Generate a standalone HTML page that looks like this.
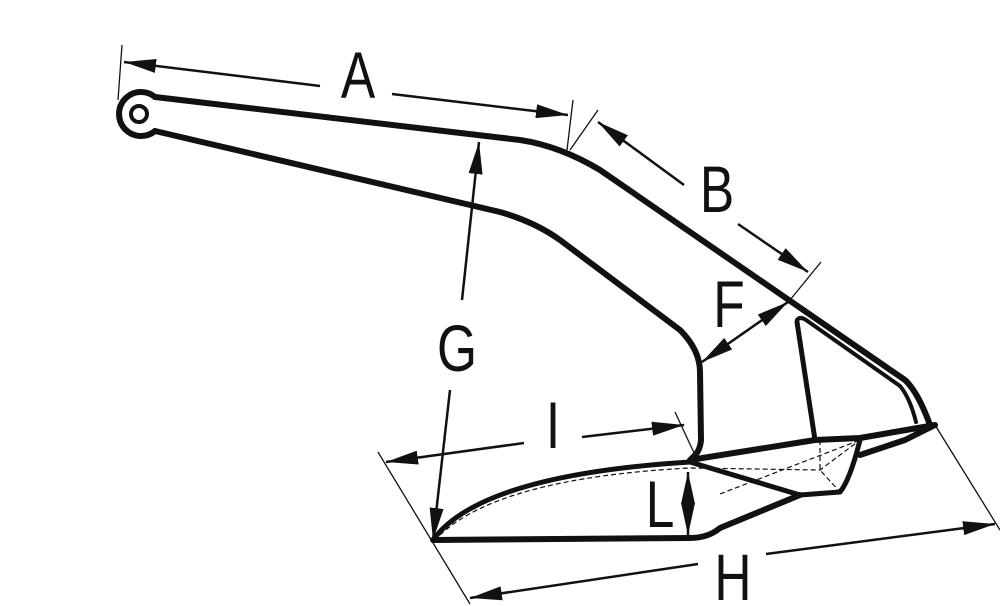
<!DOCTYPE html>
<html><head><style>
html,body{margin:0;padding:0;background:#fff;}
svg{display:block;}
text{font-family:"Liberation Sans Narrow","Liberation Sans",sans-serif;font-size:66px;fill:#111;text-anchor:middle;}
</style></head><body>
<svg width="1000" height="606" viewBox="0 0 1000 606" xmlns="http://www.w3.org/2000/svg">
<defs>
<marker id="ab" viewBox="0 0 10 10" refX="10" refY="5" markerWidth="32" markerHeight="14" markerUnits="userSpaceOnUse" orient="auto-start-reverse" preserveAspectRatio="none">
<path d="M0,0 L10,5 L0,10 z" fill="#111"/></marker>
</defs>
<g fill="none" stroke="#111" stroke-width="6" stroke-linejoin="round" stroke-linecap="round">
<!-- eye -->
<path d="M155,97 A22,22 0 1 0 155,131"/>
<circle cx="139" cy="114" r="8" stroke-width="4"/>
<!-- shank top -->
<path d="M155,97 L520,140 Q560,146 600,170 L905,380 Q918,392 930,425"/>
<path d="M797,320 Q800,316 806,320 L900,386 Q910,398 916,422" stroke-width="4"/>
<!-- shank bottom -->
<path d="M155,131 L500,212 Q535,222 560,240 L680,330 Q700,350 700,372 L701,440 Q700,452 692,458"/>
<!-- fin -->
<path d="M797,322 L815,440" stroke-width="5"/>
<!-- fluke top -->
<path d="M690,460 L815,440 L860,438 L935,425 L905,440 L860,455" stroke-width="6"/>
<!-- blade -->
<path d="M433,540 Q480,475 690,462 L800,495 L840,492 Q850,480 860,440" stroke-width="5"/>
<path d="M433,540 L690,538 Q708,538 720,528 L800,495"/>
</g>
<g fill="none" stroke="#111" stroke-width="1.2" stroke-dasharray="5,3">
<path d="M440,535 Q500,478 690,468 L820,470 L860,440"/>
<path d="M820,440 L820,470 L840,492"/>
<path d="M720,494 L860,440"/>
</g>
<g stroke="#111" stroke-width="1.3" fill="none">
<line x1="122" y1="45" x2="118" y2="100"/>
<line x1="573" y1="100" x2="567" y2="150"/>
<line x1="598" y1="110" x2="570" y2="150"/>
<line x1="821" y1="262" x2="790" y2="300"/>
<line x1="378" y1="452" x2="470" y2="604"/>
<line x1="675" y1="412" x2="695" y2="455"/>
<line x1="935" y1="425" x2="1000" y2="530"/>
</g>
<g stroke="#111" stroke-width="2.5" fill="none">
<line x1="124" y1="62" x2="320" y2="86" marker-start="url(#ab)"/>
<line x1="392" y1="94" x2="568" y2="115" marker-end="url(#ab)"/>
<line x1="598" y1="122" x2="684" y2="185" marker-start="url(#ab)"/>
<line x1="738" y1="224" x2="808" y2="272" marker-end="url(#ab)"/>
<line x1="702" y1="362" x2="788" y2="302" marker-start="url(#ab)" marker-end="url(#ab)"/>
<line x1="462" y1="300" x2="479" y2="142" marker-end="url(#ab)"/>
<line x1="450" y1="390" x2="433" y2="540" marker-end="url(#ab)"/>
<line x1="524" y1="443" x2="386" y2="462" marker-end="url(#ab)"/>
<line x1="582" y1="437" x2="684" y2="425" marker-end="url(#ab)"/>
<line x1="698" y1="564" x2="470" y2="598" marker-end="url(#ab)"/>
<line x1="766" y1="554" x2="995" y2="524" marker-end="url(#ab)"/>
<line x1="688" y1="472" x2="688" y2="535" marker-start="url(#ab)" marker-end="url(#ab)"/>
</g>
<g>
<text transform="translate(358,98) scale(0.78,1)">A</text>
<text transform="translate(717,212) scale(0.78,1)">B</text>
<text transform="translate(729,327) scale(0.78,1)">F</text>
<text transform="translate(457,371) scale(0.78,1)">G</text>
<text transform="translate(553,448) scale(0.78,1)">I</text>
<text transform="translate(733,600) scale(0.78,1)">H</text>
<text transform="translate(660,527) scale(0.78,1)" font-size="52">L</text>
</g>
</svg>
</body></html>
